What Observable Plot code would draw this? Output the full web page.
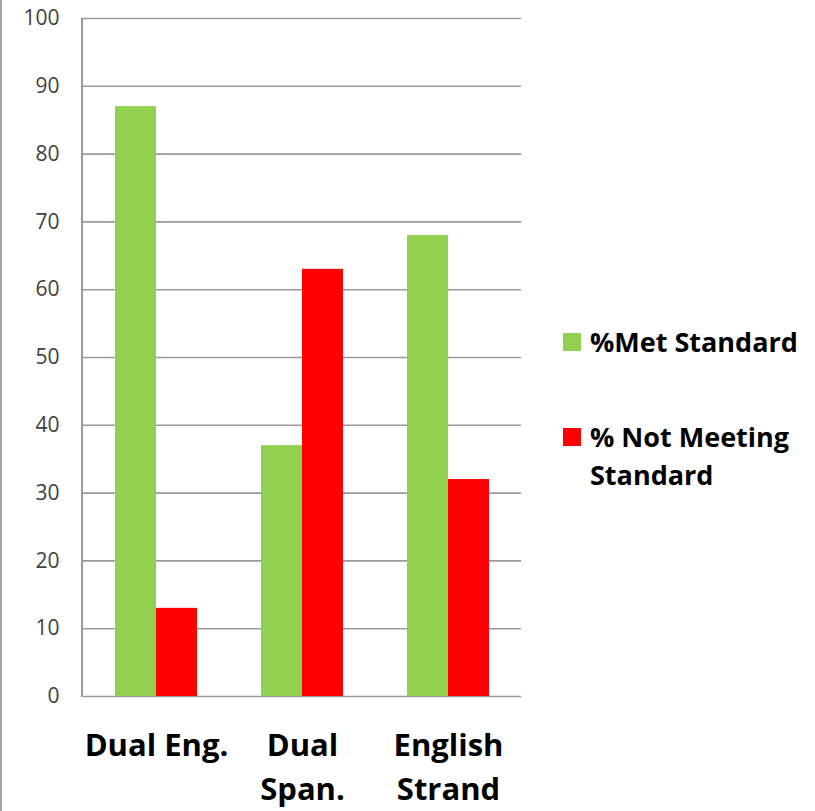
<!DOCTYPE html>
<html>
<head>
<meta charset="utf-8">
<script src="https://cdn.jsdelivr.net/npm/d3@7"></script>
<script src="https://cdn.jsdelivr.net/npm/@observablehq/plot@0.6"></script>
<style>
  html, body { margin: 0; padding: 0; background: #fff; }
  #wrap { position: relative; width: 815px; height: 811px; overflow: hidden; font-family: "Open Sans", Lato, sans-serif; }
  #border { position: absolute; left: 0; top: 0; width: 1px; height: 811px; border-left: 2px solid #a6a6a6; }
  #axisline { position: absolute; left: 81px; top: 18px; width: 0; height: 679px; border-left: 2px solid #9a9a9a; }
  .leg { position: absolute; left: 563px; display: flex; align-items: flex-start; font-weight: 700; font-size: 27px; color: #000; line-height: 38px; }
  .sw { width: 18px; height: 18px; margin-top: 10px; margin-right: 9px; flex: none; }
</style>
</head>
<body>
<div id="wrap"><div id="border"></div></div>
<script>
const categories = ["Dual Eng.", "Dual Span.", "English Strand"];
const categoryLabels = ["Dual Eng.", "Dual\nSpan.", "English\nStrand"];
const seriesNames = ["%Met Standard", "% Not Meeting Standard"];
const seriesLegendLines = [["%Met Standard"], ["% Not Meeting", "Standard"]];
const metStandard = [87, 37, 68];
const notMeetingStandard = [13, 63, 32];
const seriesColors = ["#92d050", "#ff0000"];
const yTicks = [0, 10, 20, 30, 40, 50, 60, 70, 80, 90, 100];

const rows = [];
categories.forEach((c, i) => {
  rows.push({category: c, series: seriesNames[0], value: metStandard[i]});
  rows.push({category: c, series: seriesNames[1], value: notMeetingStandard[i]});
});
const labelOf = new Map(categories.map((c, i) => [c, categoryLabels[i]]));

const chart = Plot.plot({
  width: 815,
  height: 811,
  marginLeft: 82,
  marginRight: 294,
  marginTop: 18,
  marginBottom: 115,
  style: {fontFamily: "'Open Sans', Lato, sans-serif", background: "transparent"},
  fx: {domain: categories, padding: 0, paddingOuter: 0},
  x: {domain: seriesNames, padding: 0, paddingOuter: 0.74, axis: null},
  y: {domain: [0, 100], axis: null},
  color: {domain: seriesNames, range: seriesColors},
  marks: [
    Plot.ruleY(yTicks, {stroke: "#9a9a9a", strokeWidth: 1.6}),
    Plot.barY(rows, {fx: "category", x: "series", y: "value", fill: "series"}),
    Plot.axisFx({anchor: "bottom", tickSize: 0, tickPadding: 28, fontSize: 31, fontWeight: 700, fill: "#000", lineHeight: 1.42, tickFormat: d => labelOf.get(d), label: null}),
    Plot.axisY({ticks: yTicks, tickSize: 0, tickPadding: 24, fontSize: 21, fill: "#404040", label: null})
  ]
});
chart.style.position = "absolute";
chart.style.left = "0px";
chart.style.top = "0px";
const wrap = document.getElementById("wrap");
wrap.appendChild(chart);
const axisLine = document.createElement("div");
axisLine.id = "axisline";
wrap.appendChild(axisLine);

const legendTops = [323, 418];
seriesNames.forEach((s, i) => {
  const item = document.createElement("div");
  item.className = "leg";
  item.style.top = legendTops[i] + "px";
  const sw = document.createElement("div");
  sw.className = "sw";
  sw.style.background = seriesColors[i];
  const tx = document.createElement("div");
  tx.innerHTML = seriesLegendLines[i].join("<br>");
  item.appendChild(sw);
  item.appendChild(tx);
  wrap.appendChild(item);
});
</script>
</body>
</html>
